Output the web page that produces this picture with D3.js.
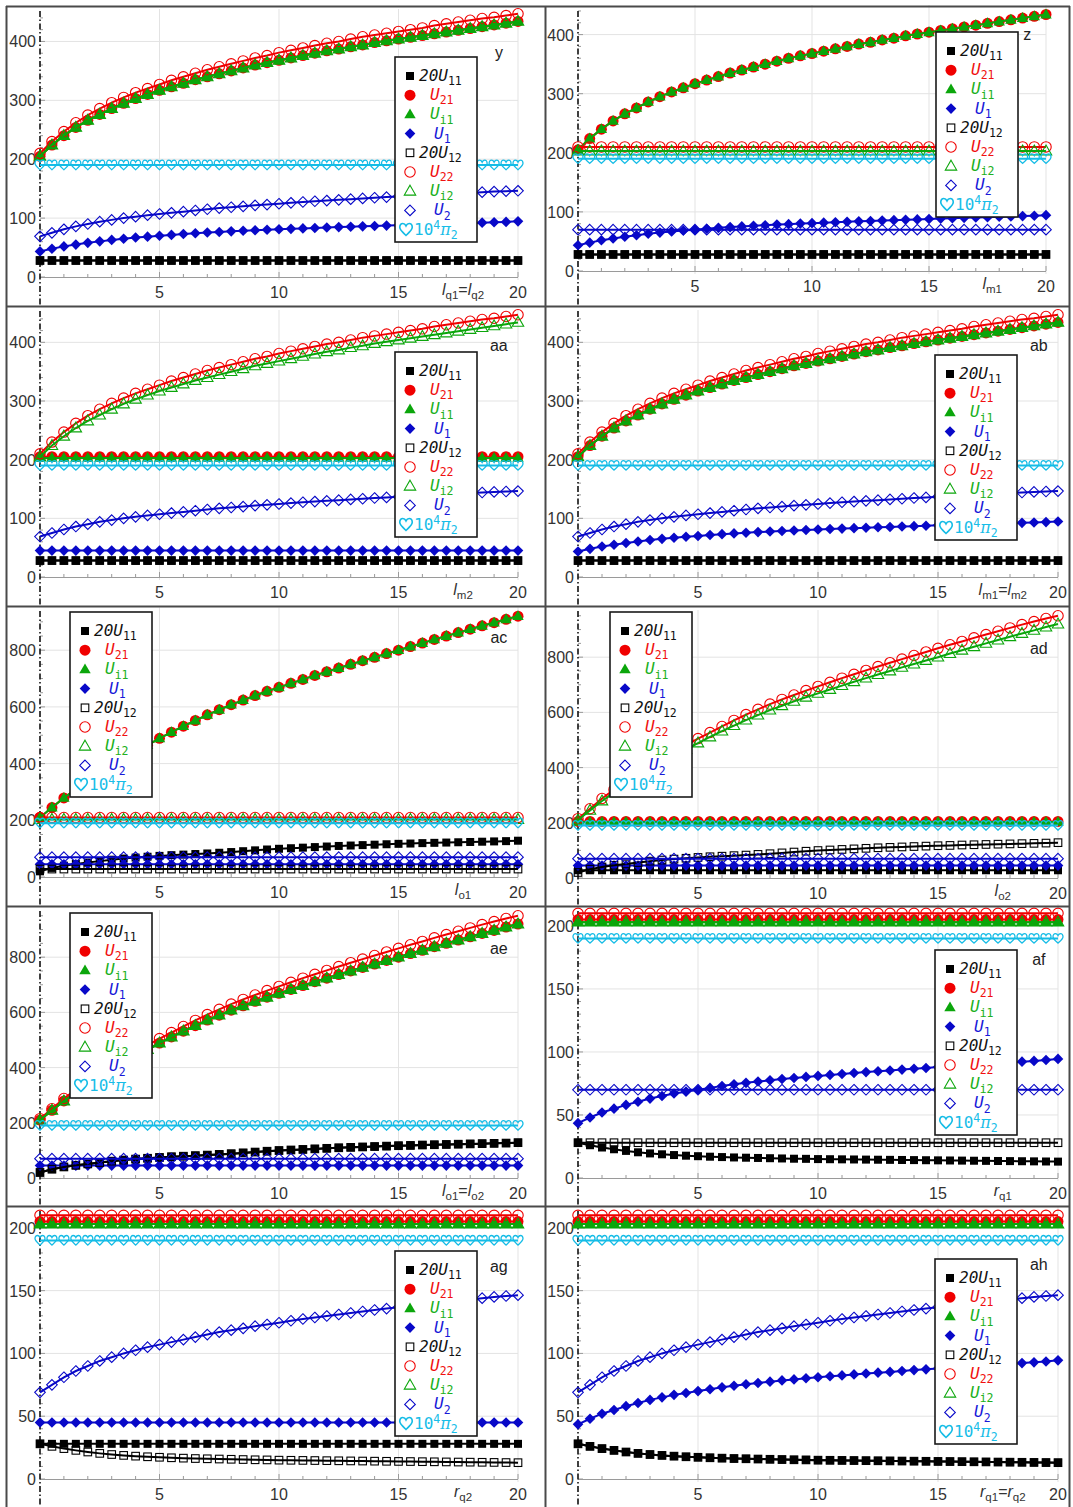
<!DOCTYPE html>
<html>
<head>
<meta charset="utf-8">
<script src="https://cdn.jsdelivr.net/npm/d3@7"></script>
<style>
  body { margin: 0; background: #ffffff; }
  svg { display: block; }
</style>
</head>
<body>
<svg id="chart" width="1073" height="1507"></svg>
<script>
// ---------------------------------------------------------------
// Parameter grid shared by every panel (0 … 20, step 0.5)
// ---------------------------------------------------------------
const xValues = [0,0.5,1,1.5,2,2.5,3,3.5,4,4.5,5,5.5,6,6.5,7,7.5,8,8.5,9,9.5,10,
                 10.5,11,11.5,12,12.5,13,13.5,14,14.5,15,15.5,16,16.5,17,17.5,18,18.5,19,19.5,20];

// Flat levels (quantity unaffected by the swept parameter)
const flat28  = [28,28,28,28,28,28,28,28,28,28,28,28,28,28,28,28,28,28,28,28,28,28,28,28,28,28,28,28,28,28,28,28,28,28,28,28,28,28,28,28,28];
const flat45  = [45,45,45,45,45,45,45,45,45,45,45,45,45,45,45,45,45,45,45,45,45,45,45,45,45,45,45,45,45,45,45,45,45,45,45,45,45,45,45,45,45];
const flat70  = [70,70,70,70,70,70,70,70,70,70,70,70,70,70,70,70,70,70,70,70,70,70,70,70,70,70,70,70,70,70,70,70,70,70,70,70,70,70,70,70,70];
const flat190 = [190,190,190,190,190,190,190,190,190,190,190,190,190,190,190,190,190,190,190,190,190,190,190,190,190,190,190,190,190,190,190,190,190,190,190,190,190,190,190,190,190];
const flat203 = [203,203,203,203,203,203,203,203,203,203,203,203,203,203,203,203,203,203,203,203,203,203,203,203,203,203,203,203,203,203,203,203,203,203,203,203,203,203,203,203,203];
const flat205 = [205,205,205,205,205,205,205,205,205,205,205,205,205,205,205,205,205,205,205,205,205,205,205,205,205,205,205,205,205,205,205,205,205,205,205,205,205,205,205,205,205];
const flat210 = [210,210,210,210,210,210,210,210,210,210,210,210,210,210,210,210,210,210,210,210,210,210,210,210,210,210,210,210,210,210,210,210,210,210,210,210,210,210,210,210,210];

// Responses to the l_q / l_m sweeps
const riseMain = [205,224,240,254,266,276,286,295,303,310,317,323,329,335,340,345,350,355,360,364,368,
                  372,376,380,384,387,391,394,398,401,404,407,410,413,416,419,422,425,428,431,434];
const riseTop  = [210,230,247,262,275,286,296,305,313,320,327,334,340,346,352,357,362,367,372,376,381,
                  385,389,393,397,400,404,408,411,414,417,420,423,427,430,433,436,439,441,444,447];
const riseU1   = [43.5,48,52,55,58,60.5,63,65,67,68.5,70,71.5,73,74.3,75.5,76.5,77.5,78.5,79.3,80.2,81,
                  81.8,82.5,83.3,84,84.7,85.3,86,86.7,87.3,88,88.7,89.3,89.9,90.5,91.1,91.7,92.3,92.9,93.6,94.5];
const riseU2   = [69,75,81,86,90,94,97,100,102.5,105,107,109,111,113,115,117,118.5,120,121.7,123,124.4,
                  126,127.4,128.6,129.8,131,132.2,133.4,134.6,135.7,136.8,137.9,139,140,141,142,143,144,145,145.7,146.4];

// Responses to the l_o sweeps
const steepMain = [210,245,279,309,337,364,390,415,440,465,489,511,532,552,572,590,608,624,640,655,669,
                   683,697,711,724,737,750,763,775,788,800,813,825,838,850,862,874,886,897,909,920];
const steepTop  = [215,251,288,320,350,378,405,431,457,481,505,527,549,571,592,611,630,647,663,679,694,
                   709,724,738,752,766,780,793,806,819,832,845,857,870,882,894,906,918,929,940,950];
const growU1x   = [20,32,40,46,51,56,61,65,68.5,71.5,74.5,77,79,81,83,85.5,88,91,94,97,99.5,
                   101.5,103.5,105.5,107.5,109.5,111,112.5,114,115.5,117,118,119.5,120.5,121.5,122.5,123.5,124.5,125.5,126.5,128];

// Response to the r_q sweeps
const fallU1x   = [28,26,24.2,22.8,21.5,20.4,19.5,18.8,18.2,17.7,17.3,16.9,16.6,16.3,16.1,15.9,15.7,15.5,15.3,15.2,15,
                   14.9,14.8,14.7,14.6,14.5,14.4,14.3,14.2,14.1,14,13.9,13.8,13.7,13.6,13.5,13.4,13.3,13.2,13.1,13];

// Axis tick values
const xTickValues = [5, 10, 15, 20];
const yTicks100 = [0, 100, 200, 300, 400];
const yTicks200 = [0, 200, 400, 600, 800];
const yTicks50  = [0, 50, 100, 150, 200];

// Series order: 20U11, U21, Ui1, U1, 20U12, U22, Ui2, U2, 10^4 pi2
const curvesY  = [flat28,  riseMain,  riseMain,  riseU1, flat28,  riseTop,  riseMain,  riseU2, flat190];
const curvesZ  = [flat28,  riseMain,  riseMain,  riseU1, flat28,  flat210,  flat203,   flat70, flat190];
const curvesAA = [flat28,  flat205,   flat203,   flat45, flat28,  riseTop,  riseMain,  riseU2, flat190];
const curvesAB = [flat28,  riseMain,  riseMain,  riseU1, flat28,  riseTop,  riseMain,  riseU2, flat190];
const curvesAC = [growU1x, steepMain, steepMain, flat45, flat28,  flat210,  flat203,   flat70, flat190];
const curvesAD = [flat28,  flat205,   flat203,   flat45, growU1x, steepTop, steepMain, flat70, flat190];
const curvesAE = [growU1x, steepMain, steepMain, flat45, growU1x, steepTop, steepMain, flat70, flat190];
const curvesAF = [fallU1x, flat205,   flat203,   riseU1, flat28,  flat210,  flat203,   flat70, flat190];
const curvesAG = [flat28,  flat205,   flat203,   flat45, fallU1x, flat210,  flat203,   riseU2, flat190];
const curvesAH = [fallU1x, flat205,   flat203,   riseU1, fallU1x, flat210,  flat203,   riseU2, flat190];

// ---------------------------------------------------------------
// Styling
// ---------------------------------------------------------------
const COL = { black: "#000000", red: "#f00000", green: "#0ba60b", blue: "#0808c8", cyan: "#14bce6" };
const TXT = { black: "#111111", red: "#f01010", green: "#20b020", blue: "#1818d8", cyan: "#18bde8" };

const seriesStyle = [
  { shape: "square",   filled: true,  color: COL.black, text: TXT.black, label: [["20","i"],["U","i"],["11","s"]], dx: 24 },
  { shape: "circle",   filled: true,  color: COL.red,   text: TXT.red,   label: [["U","i"],["21","s"]], dx: 35 },
  { shape: "triangle", filled: true,  color: COL.green, text: TXT.green, label: [["U","i"],["i1","s"]], dx: 35 },
  { shape: "diamond",  filled: true,  color: COL.blue,  text: TXT.blue,  label: [["U","i"],["1","s"]], dx: 39 },
  { shape: "square",   filled: false, color: COL.black, text: TXT.black, label: [["20","i"],["U","i"],["12","s"]], dx: 24 },
  { shape: "circle",   filled: false, color: COL.red,   text: TXT.red,   label: [["U","i"],["22","s"]], dx: 35 },
  { shape: "triangle", filled: false, color: COL.green, text: TXT.green, label: [["U","i"],["i2","s"]], dx: 35 },
  { shape: "diamond",  filled: false, color: COL.blue,  text: TXT.blue,  label: [["U","i"],["2","s"]], dx: 39 },
  { shape: "heart",    filled: false, color: COL.cyan,  text: TXT.cyan,  label: [["10",""],["4","p"],["π","g"],["2","s"]], dx: 19 }
];

// Panel layout: column/row, pixel extent of the x range, y scale, ticks, labels
const panels = [
  { tag: "y",  col: 0, row: 0, xr: [40, 518],  y0: 277,  yMax: 450, yTopPx: 12,    ticks: yTicks100, minor: 20, curves: curvesY,
    axis: [["l","i"],["q1","s"],["=",""],["l","i"],["q2","s"]], legend: [389, 50], tagPos: [19.2, 382] },
  { tag: "z",  col: 1, row: 0, xr: [578, 1046], y0: 271, yMax: 445, yTopPx: 8,     ticks: yTicks100, minor: 20, curves: curvesZ,
    axis: [["l","i"],["m1","s"]], legend: [390, 25], tagPos: [19.2, 401] },
  { tag: "aa", col: 0, row: 1, xr: [40, 518],  y0: 577,  yMax: 450, yTopPx: 313,   ticks: yTicks100, minor: 20, curves: curvesAA,
    axis: [["l","i"],["m2","s"]], legend: [389, 45], tagPos: [19.2, 396] },
  { tag: "ab", col: 1, row: 1, xr: [578, 1058], y0: 577, yMax: 450, yTopPx: 313,   ticks: yTicks100, minor: 20, curves: curvesAB,
    axis: [["l","i"],["m1","s"],["=",""],["l","i"],["m2","s"]], legend: [389, 48], tagPos: [19.2, 396] },
  { tag: "ac", col: 0, row: 2, xr: [40, 518],  y0: 877,  yMax: 940, yTopPx: 610.5, ticks: yTicks200, minor: 50, curves: curvesAC,
    axis: [["l","i"],["o1","s"]], legend: [64, 5], tagPos: [19.2, 847] },
  { tag: "ad", col: 1, row: 2, xr: [578, 1058], y0: 878, yMax: 960, yTopPx: 613,   ticks: yTicks200, minor: 50, curves: curvesAD,
    axis: [["l","i"],["o2","s"]], legend: [64, 5], tagPos: [19.2, 833] },
  { tag: "ae", col: 0, row: 3, xr: [40, 518],  y0: 1178, yMax: 960, yTopPx: 913,   ticks: yTicks200, minor: 50, curves: curvesAE,
    axis: [["l","i"],["o1","s"],["=",""],["l","i"],["o2","s"]], legend: [64, 6], tagPos: [19.2, 833] },
  { tag: "af", col: 1, row: 3, xr: [578, 1058], y0: 1178, yMax: 215, yTopPx: 907,  ticks: yTicks50, minor: 10, curves: curvesAF,
    axis: [["r","i"],["q1","s"]], legend: [389, 43], tagPos: [19.2, 174] },
  { tag: "ag", col: 0, row: 4, xr: [40, 518],  y0: 1479, yMax: 215, yTopPx: 1209,  ticks: yTicks50, minor: 10, curves: curvesAG,
    axis: [["r","i"],["q2","s"]], legend: [389, 44], tagPos: [19.2, 170] },
  { tag: "ah", col: 1, row: 4, xr: [578, 1058], y0: 1479, yMax: 215, yTopPx: 1209, ticks: yTicks50, minor: 10, curves: curvesAH,
    axis: [["r","i"],["q1","s"],["=",""],["r","i"],["q2","s"]], legend: [389, 52], tagPos: [19.2, 171] }
];

const PANEL_LEFT = [6, 546];
const PANEL_TOP0 = 7, PANEL_H = 300;
const SANS = "'Liberation Sans', Arial, sans-serif";
const MONO = "'DejaVu Sans Mono', monospace";

const svg = d3.select("#chart");

// ---------------------------------------------------------------
// Marker glyphs
// ---------------------------------------------------------------
const heartPath = "M0,4.6 C-1.6,3.1 -5,0.6 -5,-1.8 C-5,-4 -3.8,-4.9 -2.6,-4.9 C-1.4,-4.9 -0.5,-4.1 0,-3 " +
                  "C0.5,-4.1 1.4,-4.9 2.6,-4.9 C3.8,-4.9 5,-4 5,-1.8 C5,0.6 1.6,3.1 0,4.6 Z";

function drawMarker(g, style, x, y, scale) {
  const k = scale || 1;
  let el;
  switch (style.shape) {
    case "square": {
      const s = (style.filled ? 4 : 3.8) * k;
      el = g.append("rect").attr("x", x - s).attr("y", y - s).attr("width", 2 * s).attr("height", 2 * s);
      break;
    }
    case "circle":
      el = g.append("circle").attr("cx", x).attr("cy", y).attr("r", (style.filled ? 5.5 : 5.2) * k);
      break;
    case "triangle": {
      const r = 6 * k;
      el = g.append("path").attr("d", `M${x},${y - r}L${x + 0.95 * r},${y + 0.65 * r}L${x - 0.95 * r},${y + 0.65 * r}Z`);
      break;
    }
    case "diamond": {
      const r = 5.3 * k;
      el = g.append("path").attr("d", `M${x},${y - r}L${x + r},${y}L${x},${y + r}L${x - r},${y}Z`);
      break;
    }
    case "heart":
      el = g.append("path").attr("d", heartPath).attr("transform", `translate(${x},${y}) scale(${k})`);
      break;
  }
  if (style.filled) {
    el.attr("fill", style.color).attr("stroke", "none");
  } else {
    el.attr("fill", "none").attr("stroke", style.color).attr("stroke-width", style.shape === "heart" ? 1.3 : 1.1);
  }
}

// Text made of plain / italic / subscript / superscript pieces
function richText(g, x, y, segs, opt) {
  const t = g.append("text")
    .attr("x", x).attr("y", y)
    .attr("font-family", opt.family)
    .attr("font-size", opt.size)
    .attr("fill", opt.color)
    .attr("text-anchor", opt.anchor || "start");
  let shift = 0;
  segs.forEach(([str, kind]) => {
    const ts = t.append("tspan").text(str);
    const target = kind === "s" ? opt.size * 0.26 : kind === "p" ? -opt.size * 0.36 : 0;
    if (target - shift !== 0) ts.attr("dy", target - shift);
    shift = target;
    if (kind === "s" || kind === "p") ts.attr("font-size", opt.size * 0.72);
    if (kind === "i") ts.attr("font-style", "italic");
    if (kind === "g") ts.attr("font-style", "italic").attr("font-family", "'DejaVu Serif', serif");
  });
  return t;
}

// ---------------------------------------------------------------
// Panels
// ---------------------------------------------------------------
panels.forEach(p => {
  const left = PANEL_LEFT[p.col];
  const top = PANEL_TOP0 + p.row * PANEL_H;
  const g = svg.append("g");

  const x = d3.scaleLinear().domain([0, 20]).range(p.xr);
  const y = d3.scaleLinear().domain([0, p.yMax]).range([p.y0, p.yTopPx]);

  // grid
  const grid = g.append("g").attr("stroke", "#e3e3e3").attr("stroke-width", 1);
  xTickValues.forEach(v => {
    grid.append("line").attr("x1", x(v)).attr("x2", x(v)).attr("y1", p.yTopPx - 3).attr("y2", p.y0 + 3);
  });
  p.ticks.filter(v => v > 0).forEach(v => {
    grid.append("line").attr("x1", x(0)).attr("x2", x(20)).attr("y1", y(v)).attr("y2", y(v));
  });

  // x axis with ticks
  const ax = g.append("g").attr("stroke", "#9a9a9a").attr("stroke-width", 1);
  ax.append("line").attr("x1", x(0)).attr("x2", x(20)).attr("y1", p.y0 + 0.5).attr("y2", p.y0 + 0.5);
  d3.range(1, 21).forEach(v => {
    const len = v % 5 === 0 ? 5 : 3;
    ax.append("line").attr("x1", x(v)).attr("x2", x(v)).attr("y1", p.y0).attr("y2", p.y0 - len);
  });
  // y ticks along the vertical axis
  for (let v = 0; v <= p.yMax; v += p.minor) {
    const major = p.ticks.includes(v);
    ax.append("line").attr("x1", x(0)).attr("x2", x(0) + (major ? 5 : 3)).attr("y1", y(v)).attr("y2", y(v));
  }

  // dash-dot vertical axis at x = 0
  g.append("line")
    .attr("x1", x(0)).attr("x2", x(0))
    .attr("y1", top + 4).attr("y2", top + PANEL_H - 2)
    .attr("stroke", "#111").attr("stroke-width", 1.6)
    .attr("stroke-dasharray", "6,2.5,1.5,2.5");

  // tick labels
  const lab = g.append("g").attr("font-family", SANS).attr("font-size", 16).attr("fill", "#333");
  xTickValues.forEach(v => {
    lab.append("text").attr("x", x(v)).attr("y", p.y0 + 21).attr("text-anchor", "middle").text(v);
  });
  p.ticks.forEach(v => {
    lab.append("text").attr("x", x(0) - 4).attr("y", y(v) + 6).attr("text-anchor", "end").text(v);
  });

  // data series: line then markers
  const line = d3.line().x((d, i) => x(xValues[i])).y(d => y(d));
  p.curves.forEach((vals, si) => {
    const st = seriesStyle[si];
    const sg = g.append("g");
    sg.append("path").datum(vals).attr("d", line)
      .attr("fill", "none").attr("stroke", st.color).attr("stroke-width", 2);
    vals.forEach((v, i) => drawMarker(sg, st, x(xValues[i]), y(v)));
  });

  // panel tag
  g.append("text").attr("x", x(p.tagPos[0])).attr("y", y(p.tagPos[1]) + 6)
    .attr("text-anchor", "middle").attr("font-family", SANS).attr("font-size", 16).attr("fill", "#222")
    .text(p.tag);

  // axis caption
  richText(g, x(17.7), p.y0 + 18, p.axis, { family: SANS, size: 16, color: "#333", anchor: "middle" });

  // legend
  const lx = left + p.legend[0], ly = top + p.legend[1];
  const lg = g.append("g");
  lg.append("rect").attr("x", lx).attr("y", ly).attr("width", 82).attr("height", 185)
    .attr("fill", "#ffffff").attr("stroke", "#1a1a1a").attr("stroke-width", 1.6);
  seriesStyle.forEach((st, i) => {
    const cy = ly + 19 + i * 19.2;
    if (st.shape === "heart") {
      drawMarker(lg, st, lx + 11, cy, 1.25);
    } else {
      drawMarker(lg, st, lx + 15, cy, 1);
    }
    richText(lg, lx + st.dx, cy + 5, st.label, { family: MONO, size: 16, color: st.text });
  });
});

// ---------------------------------------------------------------
// Frame between the panels
// ---------------------------------------------------------------
const frame = svg.append("g").attr("stroke", "#4a4a4a").attr("stroke-width", 2);
[6.5, 306.5, 606.5, 906.5, 1206.5].forEach(yy => {
  frame.append("line").attr("x1", 6).attr("x2", 1070).attr("y1", yy).attr("y2", yy);
});
[6.5, 545.5, 1069.5].forEach(xx => {
  frame.append("line").attr("x1", xx).attr("x2", xx).attr("y1", 6).attr("y2", 1507);
});
</script>
</body>
</html>
